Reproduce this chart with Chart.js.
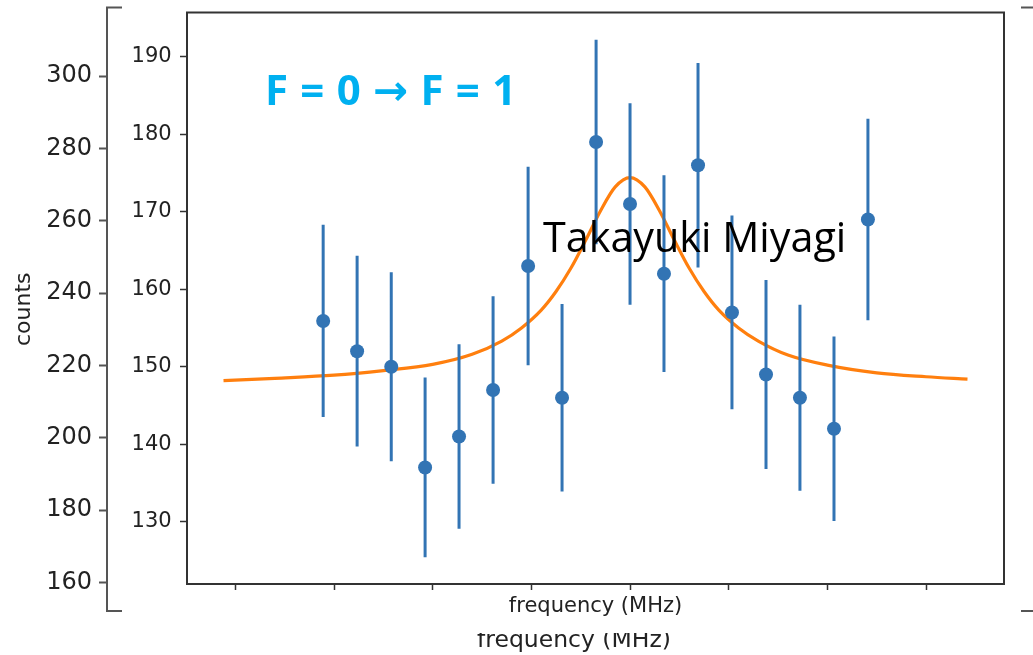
<!DOCTYPE html>
<html>
<head>
<meta charset="utf-8">
<script src="https://cdn.jsdelivr.net/npm/chart.js@4.4.1/dist/chart.umd.min.js"></script>
<style>
  html, body { margin:0; padding:0; background:#fff; overflow:hidden; width:1033px; height:655px; }
  #outer { position:absolute; left:0; top:0; }
  #inner { position:absolute; left:122px; top:0; }
</style>
</head>
<body>
<canvas id="outer" width="1045" height="655"></canvas>
<canvas id="inner" width="899" height="633"></canvas>
<script>
// ---- data ----
const freqs  = [-3.11, -2.766, -2.42, -2.077, -1.733, -1.388, -1.033, -0.689, -0.344, 0, 0.344, 0.689, 1.033, 1.378, 1.722, 2.067, 2.411];
const counts = [155.9, 152.0, 150.0, 137.0, 141.0, 147.0, 163.0, 146.0, 179.0, 171.0, 162.0, 176.0, 157.0, 149.0, 146.0, 142.0, 169.0];
const errors = [12.4, 12.3, 12.2, 11.6, 11.9, 12.1, 12.8, 12.1, 13.2, 13.0, 12.7, 13.2, 12.5, 12.2, 12.0, 11.9, 13.0];
const fitX = [-4.12, -3.6, -3.0, -2.5, -2.0, -1.6, -1.3, -1.1, -0.9, -0.75, -0.6, -0.45, -0.3, -0.15, 0, 0.15, 0.3, 0.45, 0.6, 0.75, 0.9, 1.1, 1.3, 1.6, 2.0, 2.5, 3.0, 3.42];
const fitY = [148.2, 148.5, 148.9, 149.5, 150.3, 151.6, 153.3, 155.0, 157.3, 159.7, 162.7, 166.3, 170.1, 173.2, 174.4, 173.2, 170.1, 166.3, 162.7, 159.7, 157.3, 155.0, 153.3, 151.5, 150.2, 149.2, 148.7, 148.4];
const innerYTicks = [130, 140, 150, 160, 170, 180, 190];
const innerXTicks = [-4, -3, -2, -1, 0, 1, 2, 3];
const outerYTicks = [160, 180, 200, 220, 240, 260, 280, 300];
const titleText = 'F = 0 \u2192 F = 1';
const nameText = 'Takayuki Miyagi';
const xTitle = 'frequency (MHz)';
const yTitle = 'counts';

// ---- helpers ----
const C0 = '#3274b4';
const C1 = '#ff7f0e';
const TXT = '#222222';
function zeroPad(s){ s.paddingTop = 0; s.paddingBottom = 0; s.paddingLeft = 0; s.paddingRight = 0; }

const boxPlugin = (color, width) => ({
  id: 'box',
  afterDraw(chart) {
    const a = chart.chartArea, ctx = chart.ctx;
    ctx.save();
    ctx.strokeStyle = color; ctx.lineWidth = width;
    ctx.strokeRect(a.left, a.top, a.right - a.left, a.bottom - a.top);
    ctx.restore();
  }
});

// ---- outer (background) axes ----
new Chart(document.getElementById('outer'), {
  type: 'line',
  data: { datasets: [] },
  options: {
    responsive: false, animation: false,
    layout: { padding: { left: 0, right: 4, top: 7.5, bottom: 0 } },
    plugins: { legend: { display: false }, tooltip: { enabled: false } },
    scales: {
      x: {
        type: 'linear', min: 0, max: 1,
        ticks: { display: false },
        grid: { display: false },
        border: { display: true, color: '#555', width: 2 },
        title: { display: true, text: xTitle, color: TXT,
                 font: { family: 'DejaVu Sans', size: 23.5 }, padding: { top: 0, bottom: 0 } },
        afterFit(s) { s.height = 44; zeroPad(s); }
      },
      y: {
        type: 'linear', min: 152.1, max: 319.0,
        afterBuildTicks(s) { s.ticks = outerYTicks.map(v => ({ value: v })); },
        ticks: { color: TXT, font: { family: 'DejaVu Sans', size: 24 }, padding: 7 },
        grid: { drawOnChartArea: false, tickLength: 8, tickColor: '#555', tickWidth: 2 },
        border: { color: '#555', width: 2 },
        title: { display: true, text: yTitle, color: TXT,
                 font: { family: 'DejaVu Sans', size: 22 }, padding: { top: 11, bottom: 0 } },
        afterFit(s) { s.width = 107; zeroPad(s); }
      }
    }
  },
  plugins: [boxPlugin('#555', 2)]
});

// ---- inner plot ----
const pointData = freqs.map((x, i) => ({ x, y: counts[i] }));
const errData = [];
freqs.forEach((x, i) => {
  errData.push({ x, y: counts[i] - errors[i] });
  errData.push({ x, y: counts[i] + errors[i] });
  errData.push({ x, y: null });
});
const fitData = fitX.map((x, i) => ({ x, y: fitY[i] }));

const whiteBg = {
  id: 'whiteBg',
  beforeDraw(chart) {
    const ctx = chart.ctx;
    ctx.save(); ctx.fillStyle = '#fff';
    ctx.fillRect(0, 0, chart.width, chart.height);
    ctx.restore();
  }
};
const labels = {
  id: 'labels',
  afterDraw(chart) {
    const ctx = chart.ctx;
    ctx.save();
    ctx.textBaseline = 'alphabetic';
    ctx.textAlign = 'left';
    ctx.fillStyle = '#00b0f0';
    ctx.font = 'bold 42px "Open Sans", "DejaVu Sans", sans-serif';
    if ('letterSpacing' in ctx) ctx.letterSpacing = '0.7px';
    ctx.fillText(titleText, 265 - 122, 105);
    if ('letterSpacing' in ctx) ctx.letterSpacing = '0px';
    ctx.fillStyle = '#000';
    ctx.font = '41.3px "Open Sans", "DejaVu Sans", sans-serif';
    ctx.fillText(nameText, 543 - 122, 252);
    ctx.restore();
  }
};

new Chart(document.getElementById('inner'), {
  type: 'line',
  data: {
    datasets: [
      { data: pointData, showLine: false, pointRadius: 7, pointHoverRadius: 7,
        pointBackgroundColor: C0, pointBorderWidth: 0, borderColor: C0 },
      { data: errData, borderColor: C0, borderWidth: 3, pointRadius: 0, spanGaps: false },
      { data: fitData, borderColor: C1, borderWidth: 3.2, pointRadius: 0,
        cubicInterpolationMode: 'monotone' }
    ]
  },
  options: {
    responsive: false, animation: false,
    layout: { padding: { left: 0, right: 17, top: 12.5, bottom: 0 } },
    plugins: { legend: { display: false }, tooltip: { enabled: false } },
    scales: {
      x: {
        type: 'linear', min: -4.49, max: 3.79,
        afterBuildTicks(s) { s.ticks = innerXTicks.map(v => ({ value: v })); },
        ticks: { display: false },
        grid: { drawOnChartArea: false, tickLength: 6, tickColor: '#333', tickWidth: 1.5 },
        border: { color: '#333', width: 2 },
        title: { display: true, text: xTitle, color: TXT,
                 font: { family: 'DejaVu Sans', size: 21 }, padding: { top: 0, bottom: 13.4 } },
        afterFit(s) { s.height = 49; zeroPad(s); }
      },
      y: {
        type: 'linear', min: 121.96, max: 195.7,
        afterBuildTicks(s) { s.ticks = innerYTicks.map(v => ({ value: v })); },
        ticks: { color: TXT, font: { family: 'DejaVu Sans', size: 21 }, padding: 8.3 },
        grid: { drawOnChartArea: false, tickLength: 7, tickColor: '#333', tickWidth: 1.5 },
        border: { color: '#333', width: 2 },
        afterFit(s) { s.width = 65; zeroPad(s); }
      }
    }
  },
  plugins: [whiteBg, boxPlugin('#333', 2), labels]
});
</script>
</body>
</html>
